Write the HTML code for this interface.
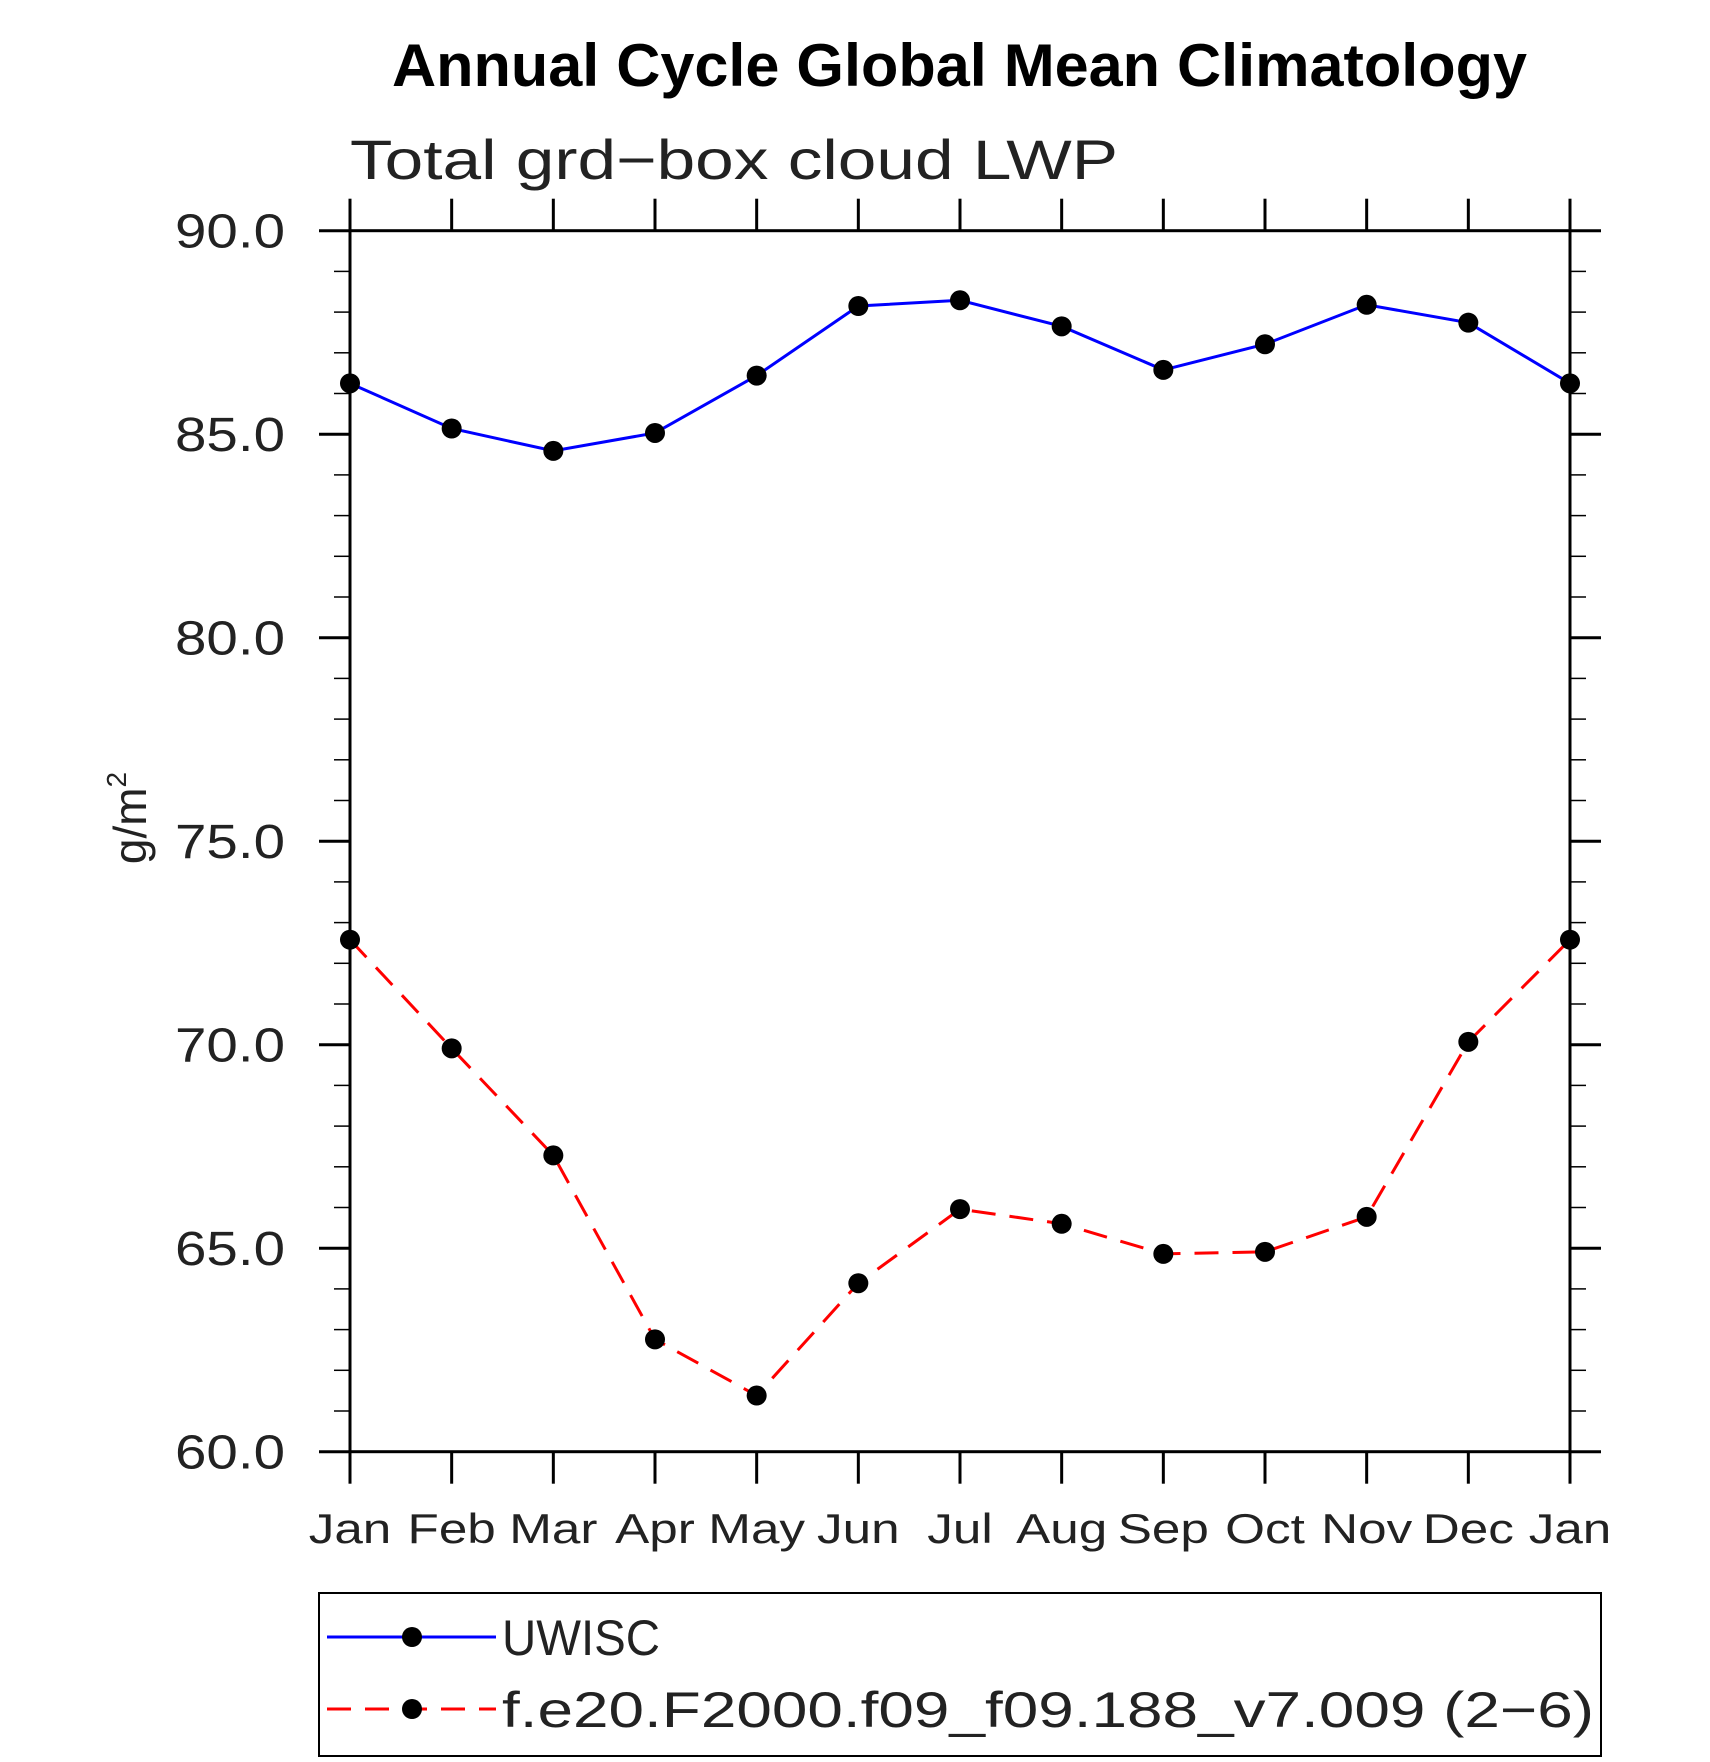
<!DOCTYPE html>
<html><head><meta charset="utf-8"><style>html,body{margin:0;padding:0;background:#fff}svg{display:block}</style></head>
<body>
<svg id="chart" width="1710" height="1762" viewBox="0 0 1710 1762" xmlns="http://www.w3.org/2000/svg" font-family="'Liberation Sans', sans-serif">
<text x="392" y="86" font-size="60" font-weight="bold" textLength="1135" lengthAdjust="spacingAndGlyphs">Annual Cycle Global Mean Climatology</text>
<text x="350" y="179" font-size="56" textLength="768" lengthAdjust="spacingAndGlyphs" fill="#222">Total grd−box cloud LWP</text>
<text transform="translate(146,818) rotate(-90)" text-anchor="middle" font-size="46" fill="#222">g/m<tspan font-size="28" dy="-20">2</tspan></text>
<g id="axes"></g>
<g id="series"></g>
<g id="legend">
<rect x="319" y="1593" width="1282" height="163" fill="none" stroke="#000" stroke-width="2"/>
<g>
<line x1="327" y1="1637" x2="496" y2="1637" stroke="#0000ff" stroke-width="3"/>
<circle cx="412" cy="1637" r="10" fill="#000"/>
<text x="502" y="1655" font-size="50" textLength="158" lengthAdjust="spacingAndGlyphs" fill="#222">UWISC</text>
</g>
<g>
<line x1="327" y1="1709" x2="496" y2="1709" stroke="#ff0000" stroke-width="3" stroke-dasharray="24,14"/>
<circle cx="412" cy="1709" r="10" fill="#000"/>
<text x="502" y="1727" font-size="50" textLength="1092" lengthAdjust="spacingAndGlyphs" fill="#222">f.e20.F2000.f09_f09.188_v7.009 (2−6)</text>
</g>
</g>
</svg>
<script>
const months = ["Jan","Feb","Mar","Apr","May","Jun","Jul","Aug","Sep","Oct","Nov","Dec","Jan"];
const uwisc = [86.25,85.14,84.59,85.03,86.44,88.15,88.29,87.65,86.58,87.21,88.18,87.74,86.25];
const model = [72.58,69.91,67.28,62.76,61.38,64.14,65.96,65.60,64.86,64.91,65.77,70.07,72.58];
const yTicks = [60,65,70,75,80,85,90];
const yTickLabels = ["60.0","65.0","70.0","75.0","80.0","85.0","90.0"];

const NS = "http://www.w3.org/2000/svg";
const L = 350, R = 1570, T = 230.7, B = 1451.7, YMIN = 60, YMAX = 90;
const xs = i => L + (R - L) * i / (months.length - 1);
const ys = v => B - (v - YMIN) / (YMAX - YMIN) * (B - T);
function mk(tag, attrs, parent) {
  const e = document.createElementNS(NS, tag);
  for (const k in attrs) e.setAttribute(k, attrs[k]);
  parent.appendChild(e);
  return e;
}
const axes = document.getElementById('axes');
const frame = mk('rect', {x:L, y:T, width:R-L, height:B-T, fill:'none', stroke:'#000', 'stroke-width':3}, axes);


months.forEach((m, i) => {
  const x = xs(i);
  const t1 = mk('line', {x1:x, y1:B, x2:x, y2:B+32, stroke:'#000', 'stroke-width':3}, axes);
  
  
  const t2 = mk('line', {x1:x, y1:T, x2:x, y2:T-32, stroke:'#000', 'stroke-width':3}, axes);
  
  
  const tx = mk('text', {x:0, y:0, 'text-anchor':'middle', 'font-size':42, fill:'#222', transform:'translate(' + x + ',1543) scale(1.22,1)'}, axes);
  tx.textContent = m;
  
  
});
yTicks.forEach((v, i) => {
  const y = ys(v);
  const a = mk('line', {x1:L-31, y1:y, x2:L, y2:y, stroke:'#000', 'stroke-width':3}, axes);
  
  
  const b = mk('line', {x1:R, y1:y, x2:R+31, y2:y, stroke:'#000', 'stroke-width':3}, axes);
  
  
  const tx = mk('text', {x:175, y:y+17, 'font-size':48, fill:'#222', textLength:110, lengthAdjust:'spacingAndGlyphs'}, axes);
  tx.textContent = yTickLabels[i];
  
  
});
for (let v = YMIN; v <= YMAX; v += 1) {
  if (v % 5 === 0) continue;
  const y = ys(v);
  const a = mk('line', {x1:L-16, y1:y, x2:L, y2:y, stroke:'#000', 'stroke-width':1.5}, axes);
  
  
  const b = mk('line', {x1:R, y1:y, x2:R+16, y2:y, stroke:'#000', 'stroke-width':1.5}, axes);
  
  
}
const sg = document.getElementById('series');
function drawSeries(vals, color, dash, name) {
  const pts = vals.map((v, i) => xs(i) + ',' + ys(v)).join(' ');
  const pl = mk('polyline', {points:pts, fill:'none', stroke:color, 'stroke-width':3}, sg);
  if (dash) pl.setAttribute('stroke-dasharray', dash);
  
  
  vals.forEach((v, i) => {
    const c = mk('circle', {cx:xs(i), cy:ys(v), r:10, fill:'#000'}, sg);
    
    
  });
}
drawSeries(uwisc, '#0000ff', null, 'uwisc');
drawSeries(model, '#ff0000', '24,14', 'model');
</script>
</body></html>
